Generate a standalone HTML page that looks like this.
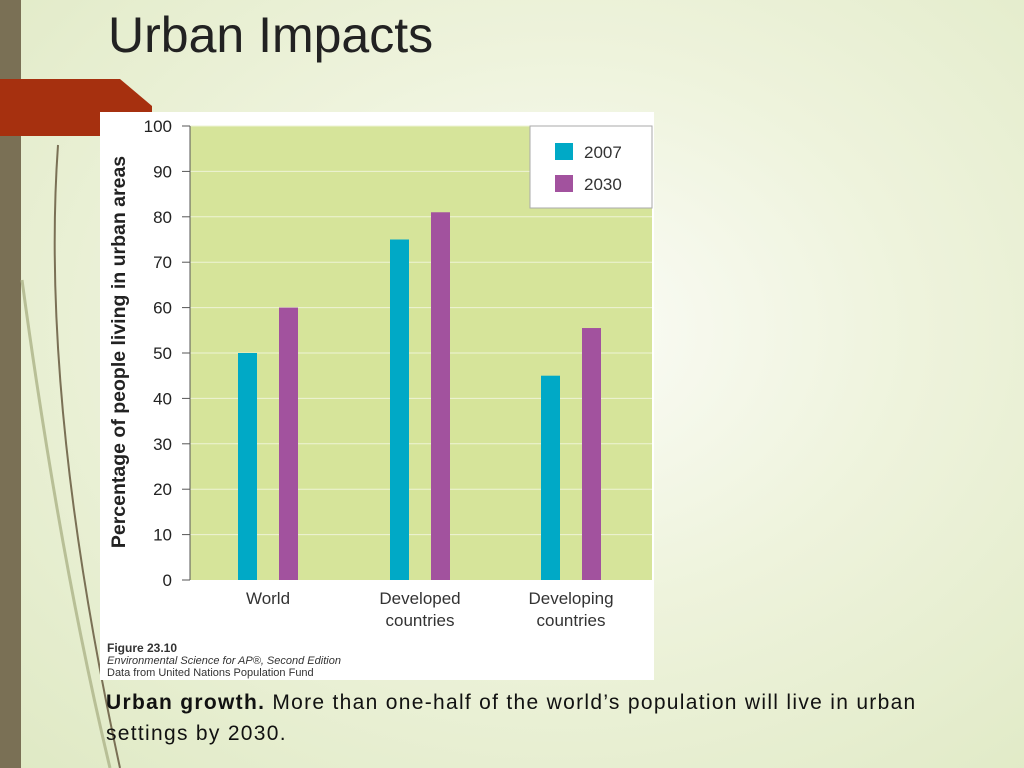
<!DOCTYPE html>
<html><head><meta charset="utf-8"><style>
body{margin:0;width:1024px;height:768px;overflow:hidden;position:relative;font-family:"Liberation Sans",sans-serif;
background:radial-gradient(ellipse at 560px 330px,#fbfcf7 0%,#eef3dc 45%,#dfe9c4 100%);}
.abs{position:absolute}
</style></head><body>
<div class="abs" style="left:0;top:0;width:21px;height:768px;background:#7a7055"></div>
<svg class="abs" style="left:0;top:0" width="1024" height="768">
<polygon points="0,79 120,79 152,106 152,136 0,136" fill="#a6300f"/>
<path d="M58,145 Q40,400 120,768" stroke="#7a7055" stroke-width="2" fill="none"/>
<path d="M22,280 Q60,560 110,768" stroke="#b8bf96" stroke-width="3" fill="none"/>
</svg>
<div class="abs" style="left:108px;top:6px;font-size:50px;color:#222">Urban Impacts</div>
<svg class="abs" style="left:100px;top:112px" width="554" height="568" id="chart">
<rect width="554" height="568" fill="#fff"/>
</svg>
<div class="abs" style="left:106px;top:687px;width:900px;font-size:21px;letter-spacing:1.3px;line-height:31px;color:#111"><b>Urban growth.</b> More than one-half of the world’s population will live in urban<br>settings by 2030.</div>
<script>
const categories=[["World"],["Developed","countries"],["Developing","countries"]];
const series2007=[50,75,45];
const series2030=[60,81,55.5];
const yTicks=[0,10,20,30,40,50,60,70,80,90,100];
const seriesNames=["2007","2030"];
const colors=["#00a9c6","#a2529e"];
const svg=document.getElementById('chart');
const NS="http://www.w3.org/2000/svg";
const ox=90,x1=552,y0=468,yTop=14;
const y=v=>y0-(v/100)*(y0-yTop);
const groupX=[138,290,441];
function mk(t,a,txt){const e=document.createElementNS(NS,t);for(const k in a)e.setAttribute(k,a[k]);if(txt!=null)e.textContent=txt;svg.appendChild(e);return e;}
let p=mk('rect',{x:ox,y:yTop,width:x1-ox,height:y0-yTop,fill:'#d6e49a'});

yTicks.forEach(t=>{
 if(t>0){const g=mk('line',{x1:ox,x2:x1,y1:y(t),y2:y(t),stroke:'#eef3d5','stroke-width':1});}
 mk('line',{x1:ox-8,x2:ox,y1:y(t),y2:y(t),stroke:'#555'});
 const l=mk('text',{x:ox-18,y:y(t)+6,'text-anchor':'end','font-size':17,fill:'#222'},t);
 
});
mk('line',{x1:ox,x2:ox,y1:yTop,y2:y0,stroke:'#555'});
const yt=mk('text',{transform:'translate(25,240) rotate(-90)','text-anchor':'middle','font-size':19.5,'font-weight':'bold',fill:'#222'},'Percentage of people living in urban areas');

categories.forEach((c,i)=>{
 [series2007,series2030].forEach((s,j)=>{
  const b=mk('rect',{x:groupX[i]+j*41,y:y(s[i]),width:19,height:y0-y(s[i]),fill:colors[j]});
  
 });
 c.forEach((w,k)=>{const t=mk('text',{x:groupX[i]+30,y:492+k*22,'text-anchor':'middle','font-size':17,fill:'#333'},w);
 });
});
const lg=mk('rect',{x:430,y:14,width:122,height:82,fill:'#fff',stroke:'#aaa'});

seriesNames.forEach((n,j)=>{
 mk('rect',{x:455,y:31+j*32,width:18,height:17,fill:colors[j]});
 const t=mk('text',{x:484,y:46+j*32,'font-size':17,fill:'#333'},n);
 
});
const f=[['Figure 23.10','bold','normal'],['Environmental Science for AP®, Second Edition','normal','italic'],['Data from United Nations Population Fund','normal','normal']];
f.forEach((r,k)=>{const t=mk('text',{x:7,y:540+k*12,'font-size':k==0?12:11,'font-weight':r[1],'font-style':r[2],fill:'#333'},r[0]);
});
</script>
</body></html>
